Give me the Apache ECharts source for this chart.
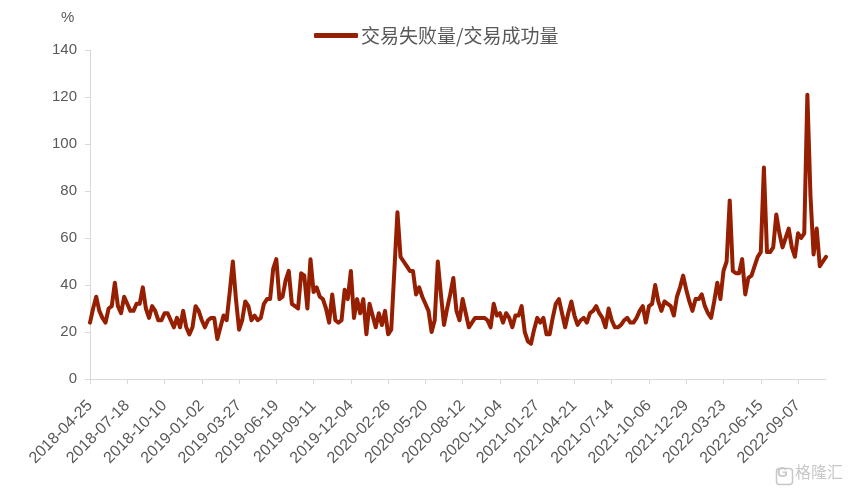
<!DOCTYPE html>
<html>
<head>
<meta charset="utf-8">
<script src="https://cdn.jsdelivr.net/npm/echarts@6/dist/echarts.min.js"></script>
<style>
html,body{margin:0;padding:0;background:#fff;}
#chart{width:850px;height:491px;}
</style>
</head>
<body>
<div id="chart"></div>
<script>
// Weekly observations starting 2018-04-25
var startDate = '2018-04-25';
var seriesName = '交易失败量/交易成功量';
var ratio = [
  24, 30, 35, 29, 26, 24, 30, 31, 41, 31,
  28, 35, 32, 29, 29, 32, 32, 39, 30, 26,
  31, 29, 25, 25, 28, 28, 25, 22, 26, 22,
  29, 22, 19, 22, 31, 29, 25, 22, 25, 26,
  26, 17, 22, 27, 25, 37, 50, 34, 21, 25,
  33, 31, 25, 27, 25, 26, 32, 34, 34, 47,
  51, 34, 35, 42, 46, 32, 31, 30, 45, 44,
  30, 51, 37, 39, 35, 34, 30, 24, 36, 25,
  24, 25, 38, 34, 46, 26, 34, 28, 34, 19,
  32, 27, 22, 28, 23, 29, 19, 21, 46, 71,
  52, 50, 48, 46, 46, 36, 39, 35, 32, 29,
  20, 25, 50, 36, 23, 30, 36, 43, 29, 25,
  34, 28, 22, 24, 26, 26, 26, 26, 25, 22,
  32, 27, 28, 24, 28, 26, 22, 27, 27, 31,
  20, 16, 15, 21, 26, 24, 26, 19, 19, 26,
  32, 34, 28, 22, 28, 33, 27, 23, 25, 26,
  24, 28, 29, 31, 28, 26, 22, 30, 25, 22,
  22, 23, 25, 26, 24, 24, 26, 29, 31, 24,
  31, 32, 40, 33, 29, 33, 32, 31, 27, 35,
  39, 44, 38, 33, 29, 34, 34, 36, 31, 28,
  26, 33, 41, 34, 46, 50, 76, 46, 45, 45,
  51, 36, 43, 44, 48, 52, 54, 90, 54, 54,
  56, 70, 62, 56, 60, 64, 56, 52, 62, 60,
  62, 121, 78, 53, 64, 48, 50, 52
];
var yTicks = [0, 20, 40, 60, 80, 100, 120, 140];

// weekly category dates
var dates = [];
(function(){
  var d = new Date(startDate + 'T00:00:00Z');
  for (var i = 0; i < ratio.length; i++) {
    var t = new Date(d.getTime() + i * 7 * 86400000);
    var s = t.getUTCFullYear() + '-' + String(t.getUTCMonth()+1).padStart(2,'0') + '-' + String(t.getUTCDate()).padStart(2,'0');
    dates.push(s);
  }
})();

var lineColor = '#951F00';
var textColor = '#595959';
var axisColor = '#D9D9D9';
var fontFam = '"Liberation Sans", "Noto Sans CJK SC", sans-serif';

var chart = echarts.init(document.getElementById('chart'), null, {renderer: 'canvas'});
chart.setOption({
  animation: false,
  backgroundColor: '#fff',
  textStyle: {fontFamily: fontFam},
  grid: {left: 90, right: 24, top: 50, bottom: 112, containLabel: false},
  legend: {
    data: [seriesName],
    left: 309,
    top: 21,
    icon: 'roundRect',
    itemWidth: 44,
    itemHeight: 5,
    itemGap: 10,
    textStyle: {color: textColor, fontSize: 19, fontFamily: '"Noto Sans CJK SC", sans-serif', padding: [0,0,0,-2]}
  },
  xAxis: {
    type: 'category',
    data: dates,
    boundaryGap: false,
    axisLine: {show: true, lineStyle: {color: axisColor, width: 1}},
    axisTick: {show: true, interval: 11, length: 5, lineStyle: {color: axisColor}},
    axisLabel: {
      interval: 11,
      rotate: 45,
      margin: 24,
      color: textColor,
      fontSize: 16,
      fontFamily: fontFam
    },
    splitLine: {show: false}
  },
  yAxis: {
    type: 'value',
    min: yTicks[0],
    max: yTicks[yTicks.length-1],
    interval: 20,
    axisLine: {show: true, lineStyle: {color: axisColor, width: 1}},
    axisTick: {show: true, inside: false, length: 5, lineStyle: {color: axisColor}},
    axisLabel: {color: textColor, fontSize: 15, margin: 13, fontFamily: fontFam},
    splitLine: {show: false}
  },
  graphic: [
    {type: 'text', left: 61, top: 10, style: {text: '%', fill: textColor, font: '15px ' + fontFam}},
    {type: 'rect', left: 774, top: 466, shape: {width: 16, height: 16, r: 3}, style: {fill: 'none', stroke: '#C8C8C8', lineWidth: 1.5}},
    {type: 'text', left: 777, top: 466, style: {text: 'G', fill: '#C8C8C8', font: 'bold 14px ' + fontFam}},
    {type: 'text', left: 795, top: 464, style: {text: '格隆汇', fill: '#C8C8C8', font: '16px "Noto Sans CJK SC", sans-serif'}}
  ],
  series: [{
    name: seriesName,
    type: 'line',
    data: ratio,
    symbol: 'none',
    smooth: false,
    lineStyle: {color: lineColor, width: 4, join: 'round', cap: 'round'},
    itemStyle: {color: lineColor}
  }]
});
</script>
</body>
</html>
